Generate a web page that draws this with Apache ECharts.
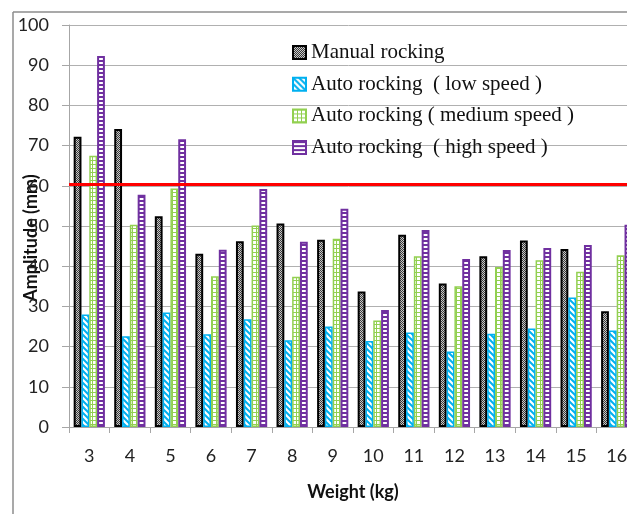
<!DOCTYPE html>
<html>
<head>
<meta charset="utf-8">
<script src="https://cdn.jsdelivr.net/npm/echarts@6/dist/echarts.min.js"></script>
<style>html,body{margin:0;padding:0;background:#fff;}#c{width:627px;height:514px;}</style>
</head>
<body>
<div id="c"></div>
<script>
const categories = ['3','4','5','6','7','8','9','10','11','12','13','14','15','16'];
const manual = [72.2, 74.1, 52.4, 43.1, 46.2, 50.6, 46.6, 33.7, 47.8, 35.7, 42.5, 46.4, 44.3, 28.8];
const lowSpeed = [28.0, 22.6, 28.5, 23.1, 26.8, 21.6, 25.0, 21.4, 23.5, 18.8, 23.2, 24.5, 32.2, 24.0];
const mediumSpeed = [67.5, 50.3, 59.3, 37.5, 50.1, 37.4, 46.8, 26.5, 42.5, 35.0, 39.8, 41.5, 38.6, 42.7];
const highSpeed = [92.3, 57.8, 71.6, 44.1, 59.2, 46.1, 54.3, 29.1, 49.0, 41.8, 44.0, 44.5, 45.3, 50.3];
const seriesNames = ['Manual rocking', 'Auto rocking  ( low speed )', 'Auto rocking ( medium speed )', 'Auto rocking  ( high speed )'];
const yTicks = [0, 10, 20, 30, 40, 50, 60, 70, 80, 90, 100];
const thresholdValue = 60.4;

function makePattern(w, h, draw) {
  const cv = document.createElement('canvas');
  cv.width = w; cv.height = h;
  const ctx = cv.getContext('2d');
  draw(ctx);
  return { image: cv, repeat: 'repeat' };
}
const patManual = makePattern(2, 2, ctx => {
  ctx.fillStyle = '#c8c8c8'; ctx.fillRect(0, 0, 2, 2);
  ctx.fillStyle = '#3a3a3a'; ctx.fillRect(0, 0, 1, 1); ctx.fillRect(1, 1, 1, 1);
});
const patLow = makePattern(6, 6, ctx => {
  ctx.fillStyle = '#ffffff'; ctx.fillRect(0, 0, 6, 6);
  ctx.strokeStyle = '#00b0f0'; ctx.lineWidth = 2;
  ctx.beginPath();
  ctx.moveTo(-1, -1); ctx.lineTo(7, 7);
  ctx.moveTo(-4, 2); ctx.lineTo(2, 8);
  ctx.moveTo(2, -4); ctx.lineTo(8, 2);
  ctx.stroke();
});
const patMed = makePattern(4, 4, ctx => {
  ctx.fillStyle = '#ffffff'; ctx.fillRect(0, 0, 4, 4);
  ctx.fillStyle = '#92d050'; ctx.fillRect(0, 0, 4, 1); ctx.fillRect(0, 0, 1, 4);
});
const patHigh = makePattern(4, 4, ctx => {
  ctx.fillStyle = '#7030a0'; ctx.fillRect(0, 0, 4, 4);
  ctx.fillStyle = '#ffffff'; ctx.fillRect(0, 2, 4, 2);
});

const chart = echarts.init(document.getElementById('c'), null, { renderer: 'canvas' });
const barBase = { type: 'bar', barGap: '0%', barCategoryGap: '23%' };
chart.setOption({
  animation: false,
  backgroundColor: '#ffffff',
  graphic: [
    { type: 'line', shape: { x1: 13, y1: 12, x2: 13, y2: 514 }, style: { stroke: '#8c8c8c', lineWidth: 1.5 } },
    { type: 'line', shape: { x1: 13, y1: 12, x2: 627, y2: 12 }, style: { stroke: '#8c8c8c', lineWidth: 1.5 } }
  ],
  grid: { left: 69, right: -10, top: 25, bottom: 87, containLabel: false, outerBoundsMode: 'none' },
  legend: {
    orient: 'vertical', left: 287, top: 37, itemGap: 10.7,
    itemWidth: 13, itemHeight: 13, icon: 'rect',
    textStyle: { fontFamily: 'Liberation Serif', fontSize: 21, color: '#111', lineHeight: 21 },
    data: seriesNames
  },
  xAxis: {
    type: 'category', data: categories,
    name: 'Weight (kg)', nameLocation: 'middle', nameGap: 56, nameMoveOverlap: false,
    nameTextStyle: { fontFamily: 'Lato', fontWeight: 'bold', fontSize: 18, color: '#111' },
    axisLine: { lineStyle: { color: '#a6a6a6', width: 1 } },
    axisTick: { show: true, length: 6, lineStyle: { color: '#a6a6a6' }, alignWithLabel: false },
    axisLabel: { fontFamily: 'Lato', fontSize: 18, color: '#222', margin: 20 }
  },
  yAxis: {
    type: 'value', min: 0, max: 100, interval: 10,
    name: 'Amplitude (mm)', nameLocation: 'middle', nameGap: 29, nameMoveOverlap: false,
    nameTextStyle: { fontFamily: 'Lato', fontWeight: 'bold', fontSize: 18, color: '#111', padding: [0, 24, 0, 0] },
    axisLine: { show: true, lineStyle: { color: '#a6a6a6', width: 1 } },
    axisTick: { show: true, length: 7, lineStyle: { color: '#a6a6a6' } },
    axisLabel: { fontFamily: 'Lato', fontSize: 18, color: '#222', margin: 20,
      formatter: v => yTicks.includes(v) ? String(v) : '' },
    splitLine: { show: true, lineStyle: { color: '#b0b0b0', width: 1 } }
  },
  series: [
    Object.assign({}, barBase, { name: seriesNames[0], data: manual,
      itemStyle: { color: patManual, borderColor: '#000000', borderWidth: 2 } }),
    Object.assign({}, barBase, { name: seriesNames[1], data: lowSpeed,
      itemStyle: { color: patLow, borderColor: '#00b0f0', borderWidth: 1.5 } }),
    Object.assign({}, barBase, { name: seriesNames[2], data: mediumSpeed,
      itemStyle: { color: patMed, borderColor: '#92d050', borderWidth: 1.5 } }),
    Object.assign({}, barBase, { name: seriesNames[3], data: highSpeed,
      itemStyle: { color: patHigh, borderColor: '#7030a0', borderWidth: 2 },
      markLine: { silent: true, symbol: ['none', 'none'], label: { show: false },
        lineStyle: { color: '#ff0000', width: 3, type: 'solid' },
        data: [{ yAxis: thresholdValue }] } })
  ]
});
</script>
</body>
</html>
